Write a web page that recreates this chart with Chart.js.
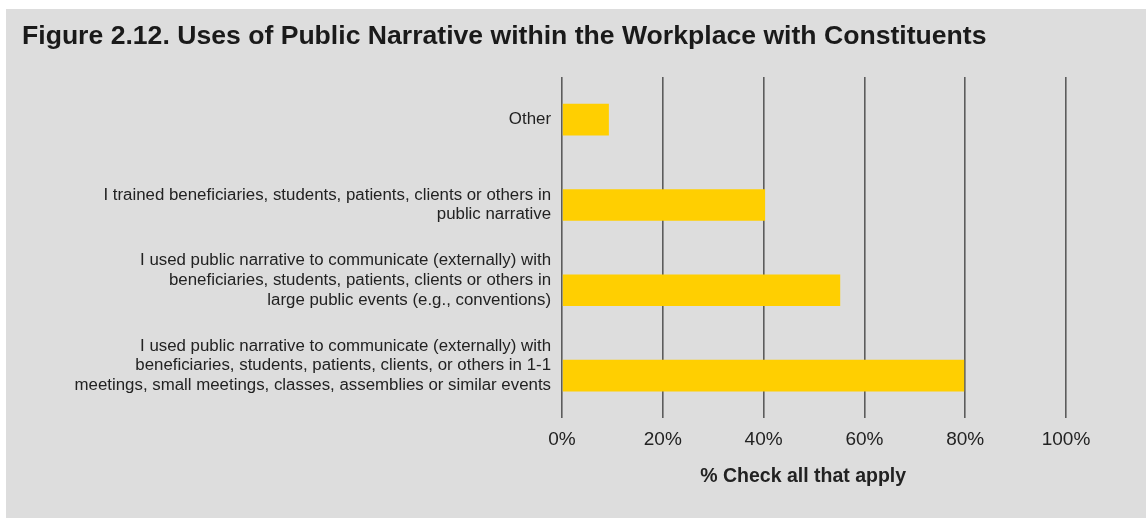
<!DOCTYPE html>
<html>
<head>
<meta charset="utf-8">
<script src="https://cdn.jsdelivr.net/npm/chart.js@4"></script>
<style>
  html, body { margin: 0; padding: 0; background: #ffffff; }
  #panel {
    position: absolute; left: 6px; top: 9px;
    width: 1140px; height: 509px;
    background: #dddddd;
  }
</style>
</head>
<body>
<div id="panel"><canvas id="chart" width="1140" height="509"></canvas></div>
<script>
var categories = [
  "Other",
  ["I trained beneficiaries, students, patients, clients or others in", "public narrative"],
  ["I used public narrative to communicate (externally) with", "beneficiaries, students, patients, clients or others in", "large public events (e.g., conventions)"],
  ["I used public narrative to communicate (externally) with", "beneficiaries, students, patients, clients, or others in 1-1", "meetings, small meetings, classes, assemblies or similar events"]
];
var values = [9.3, 40.3, 55.2, 79.8];
var xTicks = [0, 20, 40, 60, 80, 100];

var fontFamily = "'Liberation Sans', Arial, sans-serif";

var chart = new Chart(document.getElementById("chart"), {
  type: 'bar',
  data: {
    labels: categories,
    datasets: [{
      data: values,
      backgroundColor: "#ffcf01",
      borderWidth: 0,
      categoryPercentage: 1,
      barPercentage: 0.37
    }]
  },
  options: {
    indexAxis: 'y',
    responsive: false,
    animation: false,
    layout: { padding: { left: 16, right: 80, top: 0, bottom: 30 } },
    plugins: {
      legend: { display: false },
      tooltip: { enabled: false },
      title: {
        display: true,
        text: "Figure 2.12. Uses of Public Narrative within the Workplace with Constituents",
        align: 'start',
        color: "#1a1a1a",
        font: { family: fontFamily, size: 26.6, weight: 'bold' },
        padding: { top: 12, bottom: 24 }
      }
    },
    scales: {
      x: {
        min: 0,
        max: 100,
        afterBuildTicks: function(scale){
          scale.ticks = xTicks.map(function(v){ return { value: v }; });
        },
        grid: { color: "#5c5c5c", lineWidth: 1.6, drawTicks: false },
        border: { display: false },
        ticks: {
          padding: 10,
          color: "#222",
          font: { family: fontFamily, size: 19 },
          callback: function(v){ return v + "%"; }
        },
        title: {
          display: true,
          // trailing spaces nudge the centred title a little to the left
          text: "% Check all that apply\u00a0\u00a0\u00a0\u00a0",
          color: "#222",
          font: { family: fontFamily, size: 19.5, weight: 'bold' },
          padding: { top: 3.5, bottom: 0 }
        }
      },
      y: {
        afterFit: function(scale){ scale.width = 540; },
        grid: { display: false, drawTicks: false },
        border: { display: false },
        ticks: {
          padding: 11,
          color: "#222",
          font: { family: fontFamily, size: 16.85, lineHeight: 1.17 },
          // three-line labels sit a little higher than their bars
          callback: function(v, i){
            var lbl = categories[i];
            if (Array.isArray(lbl) && lbl.length > 2) return lbl.concat([""]);
            return lbl;
          }
        }
      }
    }
  }
});
</script>
</body>
</html>
